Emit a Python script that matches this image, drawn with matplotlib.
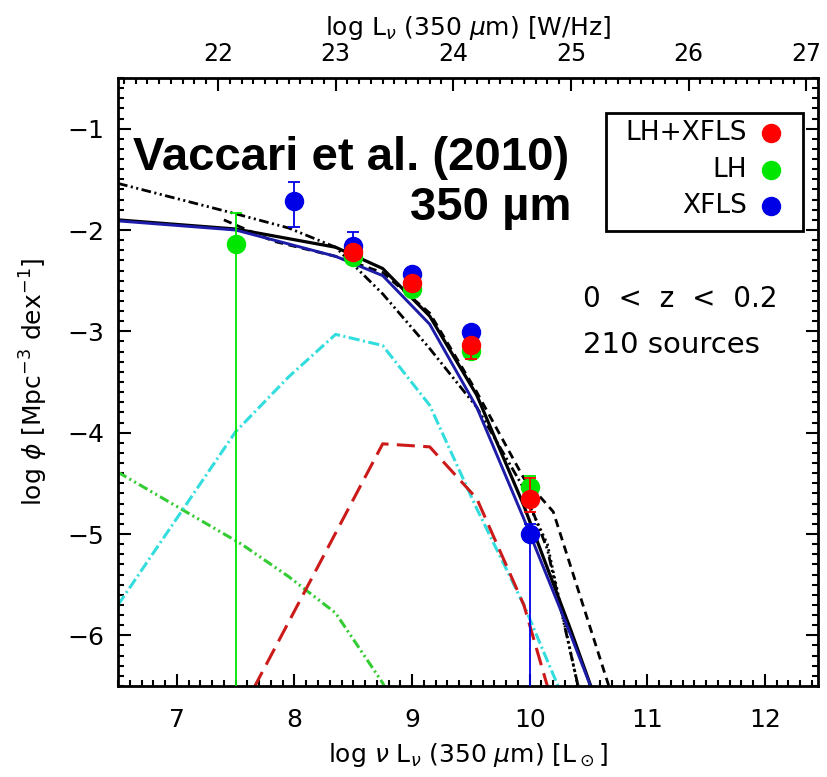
import numpy as np
import matplotlib
matplotlib.use('Agg')
import matplotlib.pyplot as plt
from matplotlib.ticker import MultipleLocator

plt.rcParams['font.family'] = ['DejaVu Sans']
plt.rcParams['mathtext.fontset'] = 'dejavusans'
plt.rcParams['lines.scale_dashes'] = False

# model curves (log nuLnu, log phi)
x_model = [6.5, 7.5, 8.35, 8.75, 9.15, 9.55, 9.95, 10.35, 10.55]
y_total_blue = [-1.91, -2.00, -2.26, -2.45, -2.93, -3.75, -4.85, -6.00, -6.60]
y_total_black = [-1.90, -1.99, -2.17, -2.38, -2.85, -3.63, -4.72, -5.95, -6.60]

x_dashed = [7.4, 7.82, 8.35, 8.75, 9.15, 9.55, 9.95, 10.2, 10.7]
y_dashed = [-1.90, -2.11, -2.26, -2.42, -2.82, -3.60, -4.45, -4.78, -6.60]

x_dash3 = [6.5, 7.5, 7.95, 8.35, 8.75, 9.15, 9.55, 9.95, 10.15, 10.45]
y_dash3 = [-1.54, -1.84, -1.98, -2.17, -2.63, -3.17, -3.75, -4.55, -5.15, -6.70]

x_dotted = [9.95, 10.15, 10.4, 10.5]
y_dotted = [-4.60, -5.10, -6.45, -6.80]

x_cyan = [6.5, 7.5, 7.95, 8.35, 8.75, 9.15, 9.55, 9.95, 10.35]
y_cyan = [-5.70, -3.99, -3.45, -3.03, -3.14, -3.73, -4.75, -5.70, -6.80]

x_red = [7.55, 8.75, 9.15, 9.55, 9.95, 10.35]
y_red = [-6.75, -4.11, -4.14, -4.65, -5.70, -7.30]

x_green = [6.5, 7.55, 7.95, 8.35, 8.75, 9.15]
y_green = [-4.39, -5.10, -5.42, -5.78, -6.47, -7.50]

# data points
x_lhx = [8.5, 9.0, 9.5, 10.0]
y_lhx = [-2.22, -2.52, -3.13, -4.65]
elo_lhx = [0.06, 0.05, 0.14, 0.13]
ehi_lhx = [0.06, 0.05, 0.05, 0.20]

x_lh = [7.5, 8.5, 9.0, 9.5, 10.0]
y_lh = [-2.14, -2.27, -2.58, -3.19, -4.54]
elo_lh = [10.0, 0.05, 0.05, 0.08, 0.05]
ehi_lh = [0.31, 0.05, 0.05, 0.05, 0.11]

x_xf = [8.0, 8.5, 9.0, 9.5, 10.0]
y_xf = [-1.71, -2.16, -2.43, -3.01, -5.00]
elo_xf = [0.26, 0.06, 0.05, 0.05, 10.0]
ehi_xf = [0.18, 0.14, 0.05, 0.05, 0.10]

legend_labels = ['LH+XFLS', 'LH', 'XFLS']
legend_colors = ['#ff0000', '#00e600', '#0000e6']

# log L_nu [W/Hz] = log nuL_nu [Lsun] + offset at 350 um
lnu_offset = 14.65

fig = plt.figure(figsize=(8.27, 7.77), dpi=100)
ax = fig.add_axes([0.1427, 0.1171, 0.8463, 0.7825])

ax.plot(x_green, y_green, color='#33cc33', lw=2.2, dashes=(7, 2.5, 1.5, 2.5, 1.5, 2.5))
ax.plot(x_cyan, y_cyan, color='#33dddd', lw=2.2, dashes=(8, 2.5, 1.5, 2.5))
ax.plot(x_red, y_red, color='#cc1a1a', lw=2.2, dashes=(13, 6))
ax.plot(x_dash3, y_dash3, color='black', lw=2.0, dashes=(7, 2.5, 1.5, 2.5, 1.5, 2.5))
ax.plot(x_dotted, y_dotted, color='black', lw=2.0, dashes=(1.5, 2.5))
ax.plot(x_dashed, y_dashed, color='black', lw=2.0, dashes=(6, 4))
ax.plot(x_model, y_total_black, color='black', lw=2.3)
ax.plot(x_model, y_total_blue, color='#1c1ca8', lw=2.1)

ax.errorbar(x_lh, y_lh, yerr=[elo_lh, ehi_lh], fmt='o', color=legend_colors[1], ms=13,
            elinewidth=1.3, capsize=4, capthick=1.3, zorder=5)
ax.errorbar(x_xf, y_xf, yerr=[elo_xf, ehi_xf], fmt='o', color=legend_colors[2], ms=13,
            elinewidth=1.3, capsize=4, capthick=1.3, zorder=6)
ax.errorbar(x_lhx, y_lhx, yerr=[elo_lhx, ehi_lhx], fmt='o', color=legend_colors[0], ms=13,
            elinewidth=1.3, capsize=4, capthick=1.3, zorder=7)

ax.set_xlim(6.5, 12.45)
ax.set_ylim(-6.5, -0.5)
ax.xaxis.set_major_locator(MultipleLocator(1))
ax.xaxis.set_minor_locator(MultipleLocator(0.1))
ax.yaxis.set_major_locator(MultipleLocator(1))
ax.yaxis.set_minor_locator(MultipleLocator(0.1))
ax.tick_params(which='both', direction='in', right=True, width=1.5, labelsize=18)
ax.tick_params(which='major', length=9)
ax.tick_params(which='minor', length=4.5)
ax.tick_params(axis='x', pad=16)
ax.tick_params(axis='y', pad=10)
for s in ax.spines.values():
    s.set_linewidth(2)

top = ax.secondary_xaxis('top', functions=(lambda x: x + lnu_offset, lambda x: x - lnu_offset))
top.xaxis.set_major_locator(MultipleLocator(1))
top.xaxis.set_minor_locator(MultipleLocator(0.1))
top.tick_params(which='both', direction='in', width=1.5, labelsize=17, pad=9)
top.tick_params(which='major', length=9)
top.tick_params(which='minor', length=4.5)
top.set_xlabel(r'log L$_\nu$ (350 $\mu$m) [W/Hz]', fontsize=18, labelpad=5)
# empty offset texts sit at the figure edge; they are not needed
top.xaxis.offsetText.set_visible(False)
ax.xaxis.offsetText.set_visible(False)
ax.yaxis.offsetText.set_visible(False)

ax.set_xlabel(r'log $\nu$ L$_\nu$ (350 $\mu$m) [L$_\odot$]', fontsize=18, labelpad=6)
ax.set_ylabel(r'log $\phi$ [Mpc$^{-3}$ dex$^{-1}$]', fontsize=18, labelpad=12)

ax.text(6.63, -1.29, 'Vaccari et al. (2010)', fontsize=34, fontweight='bold',
        family='Liberation Sans', va='center', ha='left')
ax.text(10.35, -1.78, '350 µm', fontsize=34, fontweight='bold',
        family='Liberation Sans', va='center', ha='right')

ax.text(10.45, -2.68, '0  <  z  <  0.2', fontsize=20, va='center', ha='left')
ax.text(10.45, -3.13, '210 sources', fontsize=21, va='center', ha='left')

# legend box
ax.add_patch(plt.Rectangle((0.697, 0.748), 0.2815, 0.194, transform=ax.transAxes,
                           fill=False, lw=2, zorder=8))
for i, (lab, col) in enumerate(zip(legend_labels, legend_colors)):
    yy = 0.9095 - i * 0.06
    ax.text(0.8986, yy, lab, transform=ax.transAxes, fontsize=19, ha='right', va='center', zorder=9)
    ax.plot([0.933], [yy], 'o', color=col, ms=13, transform=ax.transAxes, zorder=9)

fig.savefig('out.png', dpi=100)
